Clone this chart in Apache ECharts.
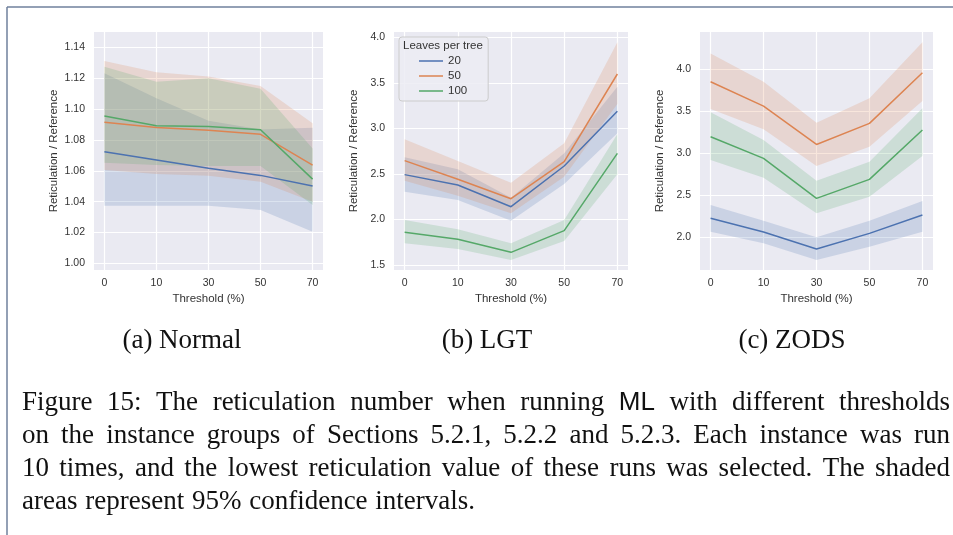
<!DOCTYPE html>
<html><head><meta charset="utf-8">
<script src="https://cdn.jsdelivr.net/npm/echarts@6/dist/echarts.min.js"></script>
<style>html,body{margin:0;padding:0;background:#fff}#c{width:953px;height:535px}</style>
</head><body><div id="c"></div>
<script>
// ---------- data ----------
const thresholds = ['0', '10', '30', '50', '70'];
const groupNames = ['20', '50', '100'];
const panelTitles = ['(a) Normal', '(b) LGT', '(c) ZODS'];

// (a) Normal
const normalMean20  = [1.0723, 1.0670, 1.0616, 1.0570, 1.0501];
const normalLow20   = [1.0374, 1.0374, 1.0374, 1.0345, 1.0205];
const normalHigh20  = [1.1231, 1.1069, 1.0924, 1.0868, 1.0879];
const normalMean50  = [1.0914, 1.0881, 1.0862, 1.0836, 1.0637];
const normalLow50   = [1.0605, 1.0579, 1.0568, 1.0529, 1.0399];
const normalHigh50  = [1.1311, 1.1239, 1.1210, 1.1149, 1.0907];
const normalMean100 = [1.0955, 1.0892, 1.0886, 1.0866, 1.0546];
const normalLow100  = [1.0652, 1.0637, 1.0631, 1.0631, 1.0378];
const normalHigh100 = [1.1274, 1.1177, 1.1199, 1.1132, 1.0745];

// (b) LGT
const lgtMean20  = [2.492, 2.378, 2.140, 2.587, 3.188];
const lgtLow20   = [2.305, 2.214, 1.987, 2.389, 2.946];
const lgtHigh20  = [2.682, 2.551, 2.239, 2.726, 3.458];
const lgtMean50  = [2.646, 2.441, 2.228, 2.635, 3.597];
const lgtLow50   = [2.426, 2.261, 2.067, 2.470, 3.268];
const lgtHigh50  = [2.880, 2.642, 2.404, 2.836, 3.945];
const lgtMean100 = [1.859, 1.782, 1.639, 1.877, 2.726];
const lgtLow100  = [1.738, 1.676, 1.555, 1.764, 2.496];
const lgtHigh100 = [1.994, 1.892, 1.738, 1.994, 2.938];

// (c) ZODS
const zodsMean20  = [2.226, 2.063, 1.861, 2.047, 2.265];
const zodsLow20   = [2.067, 1.929, 1.730, 1.889, 2.067];
const zodsHigh20  = [2.384, 2.198, 2.000, 2.198, 2.431];
const zodsMean50  = [3.849, 3.560, 3.104, 3.354, 3.956];
const zodsLow50   = [3.524, 3.283, 2.847, 3.077, 3.619];
const zodsHigh50  = [4.186, 3.849, 3.362, 3.652, 4.317];
const zodsMean100 = [3.196, 2.938, 2.463, 2.689, 3.275];
const zodsLow100  = [2.918, 2.709, 2.285, 2.483, 2.966];
const zodsHigh100 = [3.485, 3.156, 2.673, 2.899, 3.533];

// y tick labels
const normalTicks = [1.00, 1.02, 1.04, 1.06, 1.08, 1.10, 1.12, 1.14];
const lgtTicks = [1.5, 2.0, 2.5, 3.0, 3.5, 4.0];
const zodsTicks = [2.0, 2.5, 3.0, 3.5, 4.0];

const captionLines = [
  'Figure 15: The reticulation number when running ML with different thresholds',
  'on the instance groups of Sections 5.2.1, 5.2.2 and 5.2.3. Each instance was run',
  '10 times, and the lowest reticulation value of these runs was selected. The shaded',
  'areas represent 95% confidence intervals.'
];

// ---------- layout / style ----------
const colors = ['#4C72B0', '#DD8452', '#55A868'];
const textColor = '#333333';
const panels = [
  { mean: [normalMean20, normalMean50, normalMean100], low: [normalLow20, normalLow50, normalLow100], high: [normalHigh20, normalHigh50, normalHigh100],
    ticks: normalTicks, dec: 2, ymin: 0.9957, ymax: 1.1499, grid: { left: 94, top: 32, width: 229, height: 238 }, cx: 182 },
  { mean: [lgtMean20, lgtMean50, lgtMean100], low: [lgtLow20, lgtLow50, lgtLow100], high: [lgtHigh20, lgtHigh50, lgtHigh100],
    ticks: lgtTicks, dec: 1, ymin: 1.445, ymax: 4.058, grid: { left: 394, top: 32, width: 234, height: 238 }, cx: 487 },
  { mean: [zodsMean20, zodsMean50, zodsMean100], low: [zodsLow20, zodsLow50, zodsLow100], high: [zodsHigh20, zodsHigh50, zodsHigh100],
    ticks: zodsTicks, dec: 1, ymin: 1.612, ymax: 4.44, grid: { left: 700, top: 32, width: 233, height: 238 }, cx: 792 }
];
const xIdx = thresholds.map((_, i) => i);

const grids = [], xAxes = [], yAxes = [], series = [];
panels.forEach((p, pi) => {
  grids.push(Object.assign({ backgroundColor: '#EAEAF2', show: true, borderWidth: 0 }, p.grid));
  xAxes.push({
    type: 'value', gridIndex: pi, min: -0.2, max: 4.2,
    axisLine: { show: false },
    axisTick: { show: false, customValues: xIdx },
    axisLabel: { customValues: xIdx, formatter: v => thresholds[Math.round(v)], fontSize: 10.5, color: textColor, margin: 8 },
    splitLine: { show: true, lineStyle: { color: '#ffffff', width: 1.2 } },
    name: 'Threshold (%)', nameLocation: 'middle', nameGap: 23,
    nameTextStyle: { fontSize: 11.5, color: textColor }
  });
  yAxes.push({
    type: 'value', gridIndex: pi, min: p.ymin, max: p.ymax,
    axisLine: { show: false },
    axisTick: { show: false, customValues: p.ticks },
    axisLabel: { customValues: p.ticks, formatter: v => v.toFixed(p.dec), fontSize: 10.5, color: textColor, margin: 9 },
    splitLine: { show: true, lineStyle: { color: '#ffffff', width: 1.2 } },
    name: 'Reticulation / Reference', nameLocation: 'middle', nameGap: 34,
    nameTextStyle: { fontSize: 11.5, color: textColor }
  });
  for (let g = 0; g < 3; g++) {
    const lo = p.low[g], hi = p.high[g], col = colors[g];
    series.push({
      type: 'custom', name: 'band' + pi + g, xAxisIndex: pi, yAxisIndex: pi, silent: true, z: 1,
      data: lo.map((v, i) => [i, v, hi[i]]),
      encode: { x: 0, y: [1, 2] },
      renderItem: function (params, api) {
        if (params.dataIndex !== 0) return null;
        const up = hi.map((v, i) => api.coord([i, v]));
        const dn = lo.map((v, i) => api.coord([i, v])).reverse();
        return { type: 'polygon', shape: { points: up.concat(dn) }, style: { fill: col, opacity: 0.2 } };
      }
    });
  }
  for (let g = 0; g < 3; g++) {
    series.push({
      type: 'line', name: groupNames[g], xAxisIndex: pi, yAxisIndex: pi,
      data: p.mean[g].map((v, i) => [i, v]), symbol: 'none',
      lineStyle: { color: colors[g], width: 1.5 }, itemStyle: { color: colors[g] }, z: 3
    });
  }
});

// ---------- caption text (justified) ----------
const cv = document.createElement('canvas').getContext('2d');
const serifFont = '27px "Liberation Serif"';
const sansFont = '26px "Liberation Sans"';
const graphics = [];
graphics.push({ type: 'line', shape: { x1: 7, y1: 7, x2: 953, y2: 7 }, style: { stroke: '#6f819c', lineWidth: 1.5 } });
graphics.push({ type: 'line', shape: { x1: 7, y1: 7, x2: 7, y2: 535 }, style: { stroke: '#6f819c', lineWidth: 1.5 } });
panels.forEach((p, pi) => {
  graphics.push({ type: 'text', x: p.cx, y: 341, style: { text: panelTitles[pi], font: serifFont, fill: '#111', align: 'center', verticalAlign: 'middle', textAlign: 'center', textVerticalAlign: 'middle' } });
});
const capLeft = 22, capRight = 950, capY0 = 403, capLineH = 33;
captionLines.forEach((line, li) => {
  const words = line.split(' ');
  const fonts = words.map(w => w === 'ML' ? sansFont : serifFont);
  const widths = words.map((w, i) => { cv.font = fonts[i]; return cv.measureText(w).width; });
  const total = widths.reduce((a, b) => a + b, 0);
  cv.font = serifFont;
  const sp = cv.measureText(' ').width * 1.15;
  const justify = li < captionLines.length - 1;
  const gap = justify ? (capRight - capLeft - total) / (words.length - 1) : sp;
  let x = capLeft;
  words.forEach((w, i) => {
    graphics.push({ type: 'text', x: x, y: capY0 + li * capLineH, style: { text: w, font: fonts[i], fill: '#111', align: 'left', verticalAlign: 'middle', textAlign: 'left', textVerticalAlign: 'middle' } });
    x += widths[i] + gap;
  });
});

const chart = echarts.init(document.getElementById('c'), null, { renderer: 'canvas' });
chart.setOption({
  animation: false,
  backgroundColor: '#ffffff',
  textStyle: { fontFamily: '"Liberation Sans", Arial, sans-serif' },
  grid: grids, xAxis: xAxes, yAxis: yAxes, series: series,
  title: { text: 'Leaves per tree', left: 403, top: 40, textStyle: { fontSize: 11.5, fontWeight: 'normal', color: textColor }, padding: 0 },
  legend: {
    data: groupNames, left: 399, top: 37, orient: 'vertical', icon: 'rect',
    padding: [17, 21, 3, 20], itemGap: 1, itemWidth: 24, itemHeight: 1.5,
    backgroundColor: 'rgba(236,236,243,0.85)', borderColor: '#cccccc', borderWidth: 1, borderRadius: 3,
    textStyle: { fontSize: 11.5, color: textColor, lineHeight: 14 }
  },
  graphic: graphics
});
</script></body></html>
